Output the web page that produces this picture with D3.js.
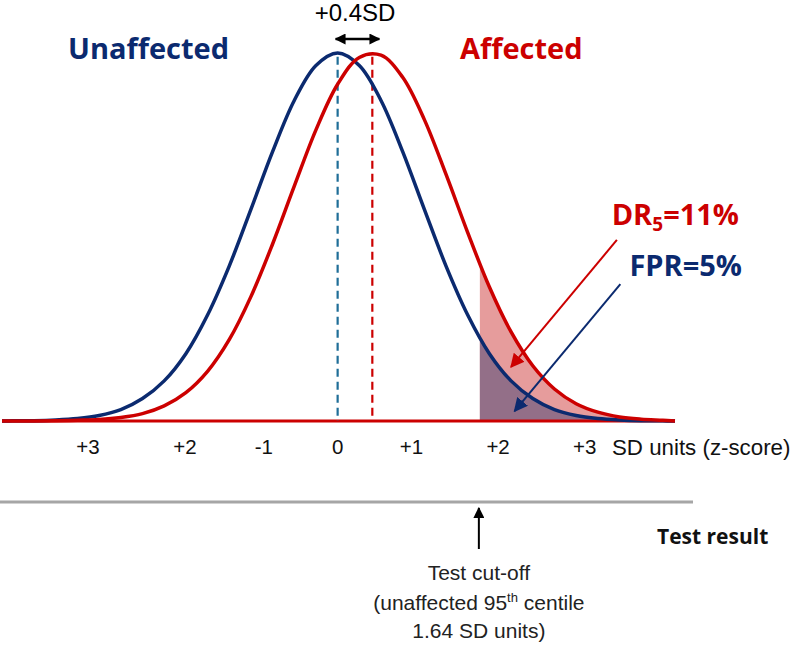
<!DOCTYPE html>
<html>
<head>
<meta charset="utf-8">
<script src="https://cdn.jsdelivr.net/npm/d3@7"></script>
<style>
  body { margin: 0; background: #fff; }
  svg { display: block; }
</style>
</head>
<body>
<svg id="chart" width="797" height="646"></svg>
<script>
// z positions the curve heights were read at (SD units)
const zGrid = [-3.87, -3.75, -3.5, -3.25, -3, -2.75, -2.5, -2.25, -2, -1.75, -1.5, -1.25, -1, -0.75, -0.5, -0.25,
  0, 0.25, 0.5, 0.75, 1, 1.25, 1.5, 1.75, 2, 2.25, 2.5, 2.75, 3, 3.25, 3.5, 3.75, 3.89];

// relative heights (peak = 1)
const unaffectedHeights = [0, 0.0004, 0.001, 0.003, 0.007, 0.015, 0.031, 0.061, 0.109, 0.183, 0.288, 0.421, 0.575, 0.732, 0.871, 0.966,
  1, 0.966, 0.871, 0.732, 0.575, 0.421, 0.288, 0.183, 0.109, 0.061, 0.031, 0.015, 0.007, 0.003, 0.001, 0.0004, 0];
const affectedHeights = [0, 0, 0.0002, 0.0006, 0.002, 0.004, 0.0095, 0.02, 0.041, 0.077, 0.135, 0.221, 0.338, 0.481, 0.638, 0.791,
  0.915, 0.988, 0.994, 0.934, 0.819, 0.67, 0.512, 0.364, 0.242, 0.15, 0.087, 0.047, 0.024, 0.011, 0.005, 0.002, 0];

const means = [0, 0.4];
const cutoff = 1.64;

const tickZ = [-2.88, -1.76, -0.85, 0, 0.85, 1.85, 2.85];
const tickLabels = ["+3", "+2", "-1", "0", "+1", "+2", "+3"];

const navy = "#0b2a6f";
const red = "#cc0000";

const svg = d3.select("#chart");

const x = d3.scaleLinear().domain([-3.87, 3.89]).range([2, 675]);
const y = d3.scaleLinear().domain([0, 1]).range([421, 53]);

const unaffected = zGrid.map((z, i) => ({z: z, h: unaffectedHeights[i]}));
const affected = zGrid.map((z, i) => ({z: z, h: affectedHeights[i]}));

const curve = d3.curveCatmullRom.alpha(0.5);
const line = d3.line().x(d => x(d.z)).y(d => y(d.h)).curve(curve);
const area = d3.area().x(d => x(d.z)).y0(y(0)).y1(d => y(d.h)).curve(curve);

const defs = svg.append("defs");
defs.append("clipPath").attr("id", "tail")
  .append("rect")
  .attr("x", x(cutoff)).attr("y", 0)
  .attr("width", x(3.89) - x(cutoff) + 5).attr("height", y(0));

function marker(id, color, size) {
  defs.append("marker")
    .attr("id", id)
    .attr("viewBox", "0 0 10 10")
    .attr("refX", 9).attr("refY", 5)
    .attr("markerWidth", size).attr("markerHeight", size)
    .attr("markerUnits", "userSpaceOnUse")
    .attr("orient", "auto-start-reverse")
    .append("path")
    .attr("d", "M0,0 L10,5 L0,10 z")
    .attr("fill", color);
}
marker("headBlack", "#000", 11);
marker("headRed", red, 14);
marker("headNavy", navy, 14);

// shaded tails
svg.append("path").datum(affected)
  .attr("clip-path", "url(#tail)")
  .attr("d", area)
  .attr("fill", "#e69c9c");
svg.append("path").datum(unaffected)
  .attr("clip-path", "url(#tail)")
  .attr("d", area)
  .attr("fill", "#936f88");

// baseline
svg.append("line")
  .attr("x1", x(-3.87)).attr("x2", x(3.89))
  .attr("y1", y(0)).attr("y2", y(0))
  .attr("stroke", red).attr("stroke-width", 3);

// mean lines
svg.selectAll(".meanline").data(means).join("line")
  .attr("class", "meanline")
  .attr("x1", d => x(d)).attr("x2", d => x(d))
  .attr("y1", y(0.99)).attr("y2", y(0))
  .attr("stroke", (d, i) => i === 0 ? "#1f6e98" : red)
  .attr("stroke-width", 2.2)
  .attr("stroke-dasharray", "8,5");

// curves
svg.append("path").datum(unaffected)
  .attr("d", line).attr("fill", "none")
  .attr("stroke", navy).attr("stroke-width", 3.5);
svg.append("path").datum(affected)
  .attr("d", line).attr("fill", "none")
  .attr("stroke", red).attr("stroke-width", 3.5);

// shift arrow
svg.append("line")
  .attr("x1", x(means[0]) - 2).attr("x2", x(means[1]) + 7)
  .attr("y1", 39).attr("y2", 39)
  .attr("stroke", "#000").attr("stroke-width", 2.5)
  .attr("marker-start", "url(#headBlack)")
  .attr("marker-end", "url(#headBlack)");
svg.append("text")
  .attr("x", 355).attr("y", 21)
  .attr("text-anchor", "middle")
  .style("font-family", "'Liberation Sans', Arial, sans-serif")
  .style("font-size", "24px")
  .text("+0.4SD");

const boldFont = "'Open Sans', sans-serif";
svg.append("text")
  .attr("x", 68).attr("y", 59)
  .style("font-family", boldFont).style("font-weight", 700).style("font-size", "29px")
  .attr("fill", navy)
  .text("Unaffected");
svg.append("text")
  .attr("x", 460).attr("y", 59)
  .style("font-family", boldFont).style("font-weight", 700).style("font-size", "29px")
  .attr("fill", red)
  .text("Affected");

const dr = svg.append("text")
  .attr("x", 739).attr("y", 225)
  .attr("text-anchor", "end")
  .style("font-family", boldFont).style("font-weight", 700).style("font-size", "29px")
  .attr("fill", red);
dr.append("tspan").text("DR");
dr.append("tspan").attr("dy", 6).style("font-size", "19px").text("5");
dr.append("tspan").attr("dy", -6).text("=11%");

svg.append("text")
  .attr("x", 742).attr("y", 276)
  .attr("text-anchor", "end")
  .style("font-family", boldFont).style("font-weight", 700).style("font-size", "29px")
  .attr("fill", navy)
  .text("FPR=5%");

// pointer arrows
svg.append("line")
  .attr("x1", x(3.22)).attr("y1", y(0.492))
  .attr("x2", x(2.0)).attr("y2", y(0.147))
  .attr("stroke", red).attr("stroke-width", 2)
  .attr("marker-end", "url(#headRed)");
svg.append("line")
  .attr("x1", x(3.26)).attr("y1", y(0.372))
  .attr("x2", x(2.04)).attr("y2", y(0.027))
  .attr("stroke", navy).attr("stroke-width", 2)
  .attr("marker-end", "url(#headNavy)");

// tick labels
const axisFont = "'Liberation Sans', Arial, sans-serif";
svg.selectAll(".tick").data(tickZ).join("text")
  .attr("class", "tick")
  .attr("x", d => x(d)).attr("y", 454)
  .attr("text-anchor", "middle")
  .style("font-family", axisFont).style("font-size", "20.5px")
  .attr("fill", "#111")
  .text((d, i) => tickLabels[i]);
svg.append("text")
  .attr("x", 612).attr("y", 455)
  .style("font-family", axisFont).style("font-size", "22.3px")
  .attr("fill", "#111")
  .text("SD units (z-score)");

// test result scale
svg.append("line")
  .attr("x1", 0).attr("x2", 693)
  .attr("y1", 502).attr("y2", 502)
  .attr("stroke", "#a6a6a6").attr("stroke-width", 3);
svg.append("line")
  .attr("x1", x(cutoff) - 1).attr("x2", x(cutoff) - 1)
  .attr("y1", 549).attr("y2", 508)
  .attr("stroke", "#000").attr("stroke-width", 2)
  .attr("marker-end", "url(#headBlack)");
svg.append("text")
  .attr("x", 657).attr("y", 544)
  .style("font-family", boldFont).style("font-weight", 700).style("font-size", "21px")
  .attr("fill", "#111")
  .text("Test result");

const note = svg.append("g")
  .style("font-family", axisFont).style("font-size", "21px")
  .attr("fill", "#222")
  .attr("text-anchor", "middle");
note.append("text").attr("x", x(cutoff) - 1).attr("y", 580).text("Test cut-off");
const t2 = note.append("text").attr("x", x(cutoff) - 1).attr("y", 610);
t2.append("tspan").text("(unaffected 95");
t2.append("tspan").attr("dy", -8).style("font-size", "13px").text("th");
t2.append("tspan").attr("dy", 8).text(" centile");
note.append("text").attr("x", x(cutoff) - 1).attr("y", 638).text("1.64 SD units)");
</script>
</body>
</html>
